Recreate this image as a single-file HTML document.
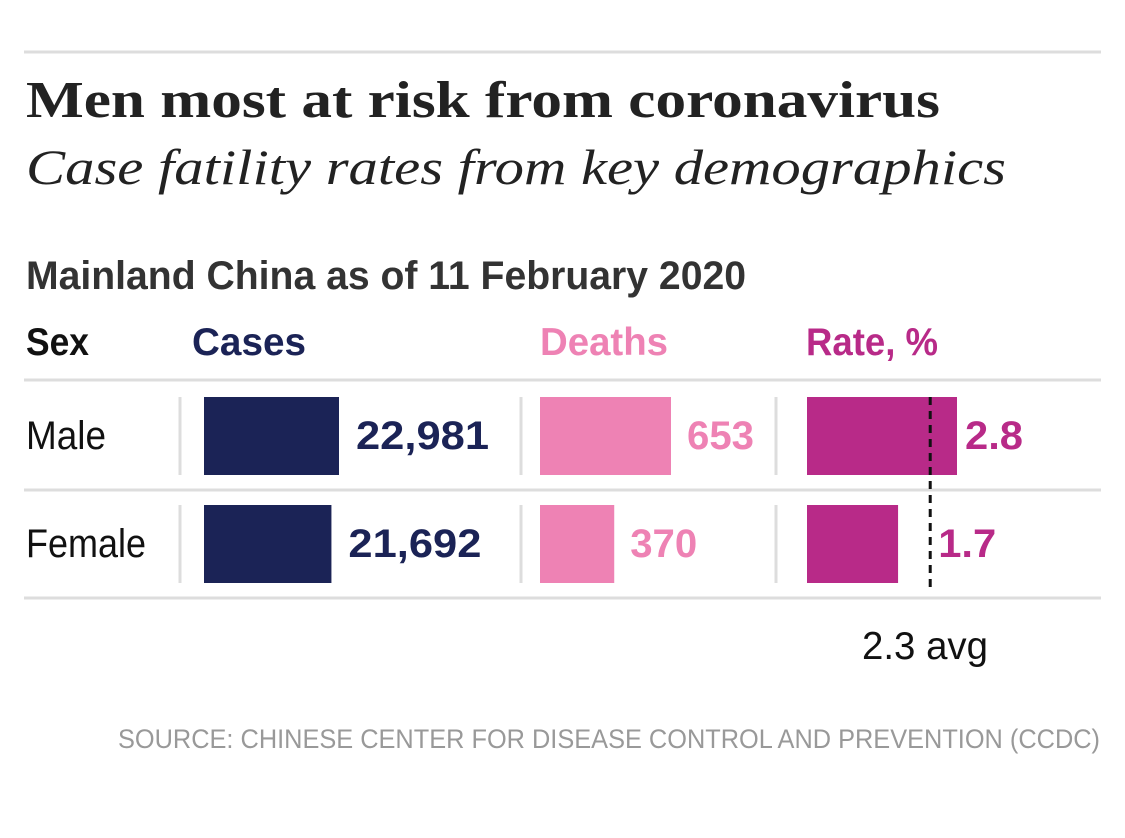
<!DOCTYPE html>
<html><head><meta charset="utf-8"><style>
body{margin:0;background:#fff;}
svg{display:block;}
.cond{font-family:"Liberation Sans Narrow","Liberation Sans",sans-serif;}
.serif{font-family:"Liberation Serif",serif;}
</style></head><body>
<svg id="chart" width="1125" height="838" viewBox="0 0 1125 838">
<line x1="24" y1="52" x2="1101" y2="52" stroke="#ddd" stroke-width="3"/>
<text class="serif" x="26" y="117" font-size="52" font-weight="bold" fill="#222" textLength="914" lengthAdjust="spacingAndGlyphs">Men most at risk from coronavirus</text>
<text class="serif" x="26" y="184" font-size="50" font-style="italic" fill="#222" textLength="980" lengthAdjust="spacingAndGlyphs">Case fatility rates from key demographics</text>
<text class="cond" x="26" y="289" font-size="40" font-weight="bold" fill="#333" textLength="720" lengthAdjust="spacingAndGlyphs">Mainland China as of 11 February 2020</text>
<text class="cond" x="26" y="355" font-size="39" font-weight="bold" fill="#111" textLength="63" lengthAdjust="spacingAndGlyphs">Sex</text>
<text class="cond" x="192" y="355" font-size="39" font-weight="bold" fill="#1b2356" textLength="114" lengthAdjust="spacingAndGlyphs">Cases</text>
<text class="cond" x="540" y="355" font-size="39" font-weight="bold" fill="#ee82b4" textLength="128" lengthAdjust="spacingAndGlyphs">Deaths</text>
<text class="cond" x="806" y="355" font-size="39" font-weight="bold" fill="#b82a88" textLength="132" lengthAdjust="spacingAndGlyphs">Rate, %</text>
<line x1="24" y1="380" x2="1101" y2="380" stroke="#ddd" stroke-width="3"/>
<g id="rows"></g>
<text class="cond" x="862" y="659" font-size="39" fill="#111" textLength="126" lengthAdjust="spacingAndGlyphs">2.3 avg</text>
<text class="cond" x="1100" y="748" font-size="27" fill="#999" text-anchor="end" textLength="982" lengthAdjust="spacingAndGlyphs">SOURCE: CHINESE CENTER FOR DISEASE CONTROL AND PREVENTION (CCDC)</text>
</svg>
<script>
const categories = ["Male", "Female"];
const cases = [22981, 21692];
const deaths = [653, 370];
const rates = [2.8, 1.7];
const rateLabels = ["2.8", "1.7"];
const avgRate = 2.3;

const NS = "http://www.w3.org/2000/svg";
const g = document.getElementById("rows");
const xCases = v => v * 135 / 22981;
const xDeaths = v => v * 131 / 653;
const xRate = v => v * 150 / 2.8;
const rowTop = i => 397 + i * 108;
const fmt = v => v.toLocaleString("en-US");
const strW = s => [...s].reduce((a,ch)=>a+((ch===','||ch==='.')?10:23),0);
function mk(tag, attrs){const e=document.createElementNS(NS,tag);for(const k in attrs)e.setAttribute(k,attrs[k]);g.appendChild(e);return e;}
function txt(x,y,s,fill,bold,name,len){const t=mk("text",{x:x,y:y,"font-size":40,fill:fill,"class":"cond","font-weight":bold?"bold":"normal",textLength:len,lengthAdjust:"spacingAndGlyphs"});t.textContent=s;


return t;}
categories.forEach((c,i)=>{
  const y=rowTop(i), h=78, base=y+52;
  txt(26,base,c,"#111",false,"row-label-"+c.toLowerCase(), c.length*20);
  [180,521,776].forEach((sx,j)=>{const l=mk("line",{x1:sx,y1:y,x2:sx,y2:y+h,stroke:"#ddd","stroke-width":3});
    
    });
  let w=xCases(cases[i]);
  let r=mk("rect",{x:204,y:y,width:w,height:h,fill:"#1b2356"});
  
  
  let s=fmt(cases[i]);
  txt(204+w+17,base,s,"#1b2356",true,"cases-value-"+c.toLowerCase(),strW(s)+8);
  w=xDeaths(deaths[i]);
  r=mk("rect",{x:540,y:y,width:w,height:h,fill:"#ee82b4"});
  
  
  s=fmt(deaths[i]);
  txt(540+w+16,base,s,"#ee82b4",true,"deaths-value-"+c.toLowerCase(),strW(s)-2);
  w=xRate(rates[i]);
  r=mk("rect",{x:807,y:y,width:w,height:h,fill:"#b82a88"});
  
  
  const tx=Math.max(807+w+8, 807+xRate(avgRate)+8);
  txt(tx,base,rateLabels[i],"#b82a88",true,"rate-value-"+c.toLowerCase(),strW(rateLabels[i])+2);
  const rl=mk("line",{x1:24,y1:y+h+15,x2:1101,y2:y+h+15,stroke:"#ddd","stroke-width":3});
  
  
});
const ax=807+xRate(avgRate);
const al=mk("line",{x1:ax,y1:397,x2:ax,y2:587,stroke:"#111","stroke-width":3,"stroke-dasharray":"8,6"});


</script>
</body></html>
